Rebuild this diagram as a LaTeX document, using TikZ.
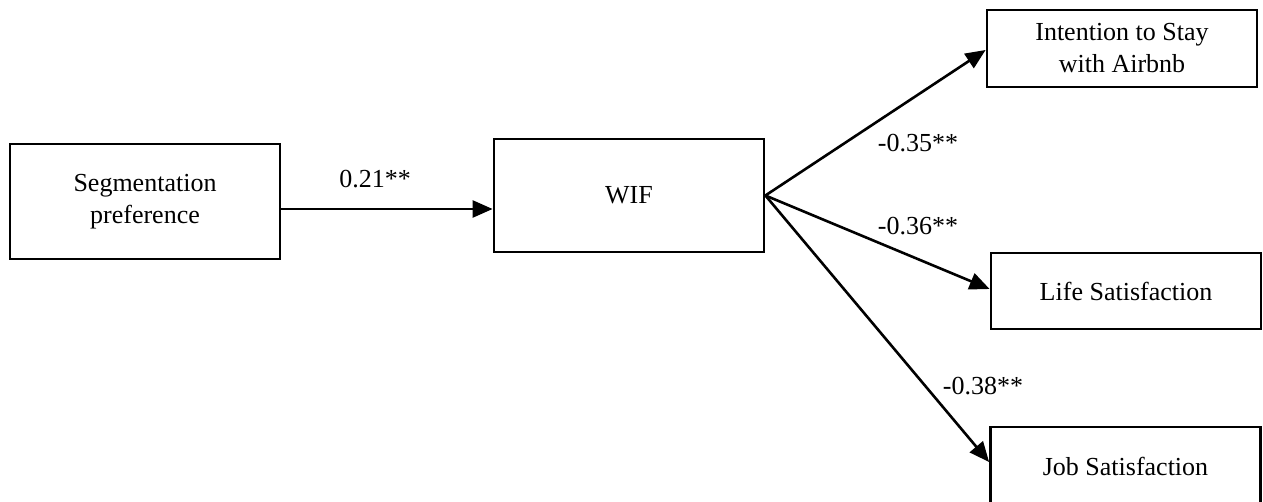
\documentclass[tikz,border=0pt]{standalone}
\usepackage{fontspec}
\setmainfont{Liberation Serif}
\usetikzlibrary{arrows.meta}
\begin{document}
\begin{tikzpicture}[x=1pt,y=-1pt,
  box/.style={draw,line width=2.8pt,minimum width=270pt,align=center,inner sep=0pt,
    font=\fontsize{26}{32}\selectfont},
  arr/.style={line width=2.6pt,-{Triangle[length=20pt,width=17pt]}},
  lab/.style={font=\fontsize{26}{32}\selectfont,inner sep=0pt}]
\fill[white] (0,0) rectangle (1263,502);
\useasboundingbox (0,0) rectangle (1263,502);
\node[box,minimum height=115pt] (seg) at (145,201.5) {Segmentation\\preference};
\node[box,minimum height=113pt] (wif) at (629,195.5) {WIF};
\node[box,minimum height=77pt] (ist) at (1122,48.5) {Intention to Stay\\with Airbnb};
\node[box,minimum height=76pt] (life) at (1126,291) {Life Satisfaction};
\node[box,minimum height=78pt] (job) at (1125.5,466) {Job Satisfaction};
\draw[arr] ([yshift=-7.5pt]seg.east) -- ([yshift=-7.5pt]seg.east -| wif.west);
\draw[arr] (wif.east) -- ([yshift=-1.5pt]ist.west);
\draw[arr] (wif.east) -- ([yshift=2pt]life.west);
\draw[arr] (wif.east) -- ([yshift=4pt]job.west);
\node[lab] (l1) at (375,179) {0.21**};
\node[lab] (l2) at (918,143) {-0.35**};
\node[lab] (l3) at (918,226) {-0.36**};
\node[lab] (l4) at (983,386) {-0.38**};
\end{tikzpicture}
\end{document}
